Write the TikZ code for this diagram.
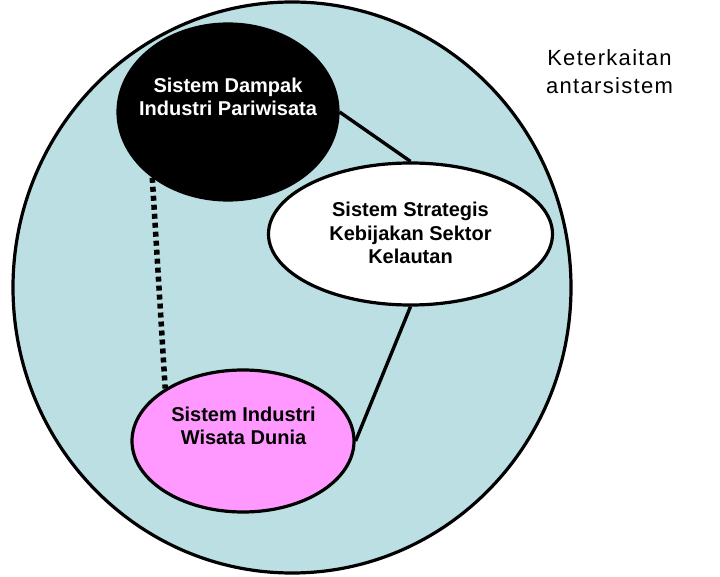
\documentclass[tikz,border=0pt]{standalone}
\usepackage{fontspec}
\setmainfont{Liberation Sans}
\usetikzlibrary{shapes.geometric}
\definecolor{bgblue}{RGB}{187,223,227}
\definecolor{pinkfill}{RGB}{255,153,255}
\begin{document}
\begin{tikzpicture}[x=1pt,y=1pt,
  sys/.style={ellipse, draw=black, line width=3.2pt, inner sep=0pt},
  lbl/.style={align=center, font=\fontsize{20}{23.5}\selectfont\bfseries},
  link/.style={line width=3.4pt},
  dotlink/.style={line width=5.5pt, dash pattern=on 5pt off 4pt}]
\useasboundingbox (0,0) rectangle (720,576);
\node[sys, fill=bgblue, minimum width=558, minimum height=571] (outer) at (292,288.5) {};
\node[sys, fill=black, minimum width=220, minimum height=176] (dampak) at (228,464) {};
\node[sys, fill=white, minimum width=284, minimum height=142] (strat) at (410.5,342) {};
\node[sys, fill=pinkfill, minimum width=222, minimum height=142] (dunia) at (243,135) {};
\draw[link] (dampak.east) -- (strat.north);
\draw[link] (strat.south) -- (dunia.east);
\draw[dotlink] (dampak.221) -- (dunia.146);
\node[lbl, text=white] (dampakT) at (228,479) {Sistem Dampak\\Industri Pariwisata};
\node[lbl] (stratT) at (410.5,343) {Sistem Strategis\\Kebijakan Sektor\\Kelautan};
\node[lbl] (duniaT) at (243.5,150) {Sistem Industri\\Wisata Dunia};
\node[font=\fontsize{22}{28}\selectfont\addfontfeature{LetterSpace=6}, align=center] (title) at (609.5,504.5) {Keterkaitan\\antarsistem};
\end{tikzpicture}
\end{document}
